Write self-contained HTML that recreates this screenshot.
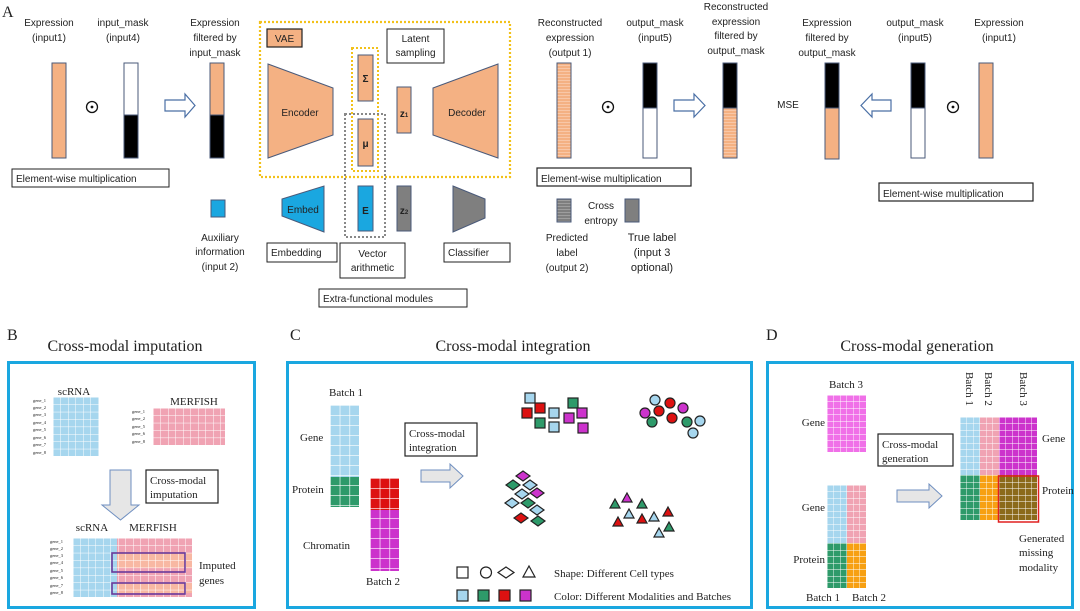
<!DOCTYPE html>
<html><head><meta charset="utf-8"><style>
html,body{margin:0;padding:0;background:#fff;}
svg{display:block;}
.s{font-family:"Liberation Sans",sans-serif;font-size:10px;fill:#222;}
.r{font-family:"Liberation Serif",serif;fill:#222;}
</style></head><body>
<svg width="1080" height="611" viewBox="0 0 1080 611" xmlns="http://www.w3.org/2000/svg">
<defs>
<pattern id="g7" patternUnits="userSpaceOnUse" width="7.5" height="7.4"><path d="M0 0H7.5M0 0V7.4" stroke="#fff" stroke-width="1" fill="none"/></pattern>
<pattern id="g6" patternUnits="userSpaceOnUse" width="6.5" height="6.5"><path d="M0 0H6.5M0 0V6.5" stroke="#fff" stroke-width="0.9" fill="none"/></pattern>
<pattern id="g10" patternUnits="userSpaceOnUse" width="9.7" height="10"><path d="M0 0H9.7M0 0V10" stroke="#fff" stroke-width="1.3" fill="none"/></pattern>
<pattern id="st" patternUnits="userSpaceOnUse" width="4" height="3"><rect width="4" height="3" fill="#f4b183"/><path d="M0 2.5H4" stroke="#f9cdb0" stroke-width="0.8"/></pattern>
<pattern id="stg" patternUnits="userSpaceOnUse" width="4" height="3"><rect width="4" height="3" fill="#7f7f7f"/><path d="M0 2.5H4" stroke="#a6a6a6" stroke-width="0.8"/></pattern>
<g id="odot"><circle r="5.5" fill="none" stroke="#111" stroke-width="1.3"/><circle r="1.4" fill="#111"/></g>
</defs>

<!-- ===== Panel A ===== -->
<text x="2" y="17" class="r" font-size="16">A</text>
<g class="s" text-anchor="middle">
<text x="49" y="26">Expression</text><text x="49" y="41">(input1)</text>
<text x="123" y="26">input_mask</text><text x="123" y="41">(input4)</text>
<text x="215" y="26">Expression</text><text x="215" y="41">filtered by</text><text x="215" y="56">input_mask</text>
</g>
<rect x="52" y="63" width="14" height="95" fill="#f4b183" stroke="#4a5a7a" stroke-width="1"/>
<use href="#odot" x="92" y="107"/>
<rect x="124" y="63" width="14" height="52" fill="#fff" stroke="#4a5a7a"/>
<rect x="124" y="115" width="14" height="43" fill="#000" stroke="#4a5a7a"/>
<path d="M165 100H185V94L195 105.5L185 117V111H165Z" fill="#fff" stroke="#4a6fa5" stroke-width="1.2"/>
<rect x="210" y="63" width="14" height="52" fill="#f4b183" stroke="#4a5a7a"/>
<rect x="210" y="115" width="14" height="43" fill="#000" stroke="#4a5a7a"/>
<rect x="12" y="169" width="157" height="18" fill="#fff" stroke="#222"/>
<text x="16" y="182" class="s">Element-wise multiplication</text>
<rect x="211" y="200" width="14" height="17" fill="#1aa7e0" stroke="#4a5a7a"/>
<g class="s" text-anchor="middle"><text x="220" y="241">Auxiliary</text><text x="220" y="255">information</text><text x="220" y="270">(input 2)</text></g>

<rect x="260" y="22" width="250" height="155" fill="none" stroke="#f2c11a" stroke-width="2.2" stroke-dasharray="2,2"/>
<rect x="267" y="29" width="35" height="18" fill="#f4b183" stroke="#222" stroke-width="1.2"/>
<text x="284.5" y="42" class="s" text-anchor="middle">VAE</text>
<path d="M268 64L333 88V135L268 158Z" fill="#f4b183" stroke="#4a5a7a"/>
<text x="300" y="116" class="s" text-anchor="middle">Encoder</text>
<rect x="352" y="48" width="26" height="123" fill="none" stroke="#f2c11a" stroke-width="2" stroke-dasharray="2,2"/>
<rect x="358" y="55" width="15" height="46" fill="#f4b183" stroke="#4a5a7a"/>
<text x="365.5" y="82" class="s" font-weight="bold" text-anchor="middle" font-size="9">Σ</text>
<rect x="345" y="114" width="40" height="123" fill="none" stroke="#888" stroke-width="2" stroke-dasharray="2,2"/>
<rect x="358" y="119" width="15" height="47" fill="#f4b183" stroke="#4a5a7a"/>
<text x="365.5" y="147" class="s" font-weight="bold" text-anchor="middle" font-size="9">μ</text>
<rect x="387" y="29" width="57" height="34" fill="#fff" stroke="#222"/>
<text x="415.5" y="42" class="s" text-anchor="middle">Latent</text><text x="415.5" y="56" class="s" text-anchor="middle">sampling</text>
<rect x="397" y="87" width="14" height="46" fill="#f4b183" stroke="#4a5a7a"/>
<text x="404" y="117" class="s" font-weight="bold" text-anchor="middle" font-size="9">z<tspan font-size="6">1</tspan></text>
<path d="M433 88L498 64V158L433 135Z" fill="#f4b183" stroke="#4a5a7a"/>
<text x="467" y="116" class="s" text-anchor="middle">Decoder</text>
<path d="M282 199L324 186V232L282 216Z" fill="#1aa7e0" stroke="#4a5a7a"/>
<text x="303" y="213" class="s" text-anchor="middle" fill="#123">Embed</text>
<rect x="358" y="186" width="15" height="45" fill="#1aa7e0" stroke="#4a5a7a"/>
<text x="365.5" y="214" class="s" font-weight="bold" text-anchor="middle" font-size="9">E</text>
<rect x="397" y="186" width="14" height="45" fill="#7f7f7f" stroke="#4a5a7a"/>
<text x="404" y="214" class="s" font-weight="bold" text-anchor="middle" font-size="9" fill="#ddd">z<tspan font-size="6">2</tspan></text>
<path d="M453 186L485 199V218L453 232Z" fill="#7f7f7f" stroke="#4a5a7a"/>
<rect x="267" y="243" width="70" height="19" fill="#fff" stroke="#222"/>
<text x="271" y="256" class="s">Embedding</text>
<rect x="340" y="243" width="65" height="35" fill="#fff" stroke="#222"/>
<text x="372.5" y="257" class="s" text-anchor="middle">Vector</text><text x="372.5" y="271" class="s" text-anchor="middle">arithmetic</text>
<rect x="444" y="243" width="66" height="19" fill="#fff" stroke="#222"/>
<text x="448" y="256" class="s">Classifier</text>
<rect x="319" y="289" width="148" height="18" fill="#fff" stroke="#222"/>
<text x="323" y="302" class="s">Extra-functional modules</text>

<g class="s" text-anchor="middle">
<text x="570" y="26">Reconstructed</text><text x="570" y="41">expression</text><text x="570" y="56">(output 1)</text>
<text x="655" y="26">output_mask</text><text x="655" y="41">(input5)</text>
<text x="736" y="10">Reconstructed</text><text x="736" y="25">expression</text><text x="736" y="39">filtered by</text><text x="736" y="54">output_mask</text>
<text x="827" y="26">Expression</text><text x="827" y="41">filtered by</text><text x="827" y="56">output_mask</text>
<text x="915" y="26">output_mask</text><text x="915" y="41">(input5)</text>
<text x="999" y="26">Expression</text><text x="999" y="41">(input1)</text>
<text x="788" y="108">MSE</text>
</g>
<rect x="557" y="63" width="14" height="95" fill="url(#st)" stroke="#4a5a7a"/>
<use href="#odot" x="608" y="107"/>
<rect x="643" y="63" width="14" height="45" fill="#000" stroke="#4a5a7a"/>
<rect x="643" y="108" width="14" height="50" fill="#fff" stroke="#4a5a7a"/>
<path d="M674 100H694V94L705 105.5L694 117V111H674Z" fill="#fff" stroke="#4a6fa5" stroke-width="1.2"/>
<rect x="723" y="63" width="14" height="45" fill="#000" stroke="#4a5a7a"/>
<rect x="723" y="108" width="14" height="50" fill="url(#st)" stroke="#4a5a7a"/>
<rect x="825" y="63" width="14" height="45" fill="#000" stroke="#4a5a7a"/>
<rect x="825" y="108" width="14" height="51" fill="#f4b183" stroke="#4a5a7a"/>
<path d="M891 100H872V94L861 105.5L872 117V111H891Z" fill="#fff" stroke="#4a6fa5" stroke-width="1.2"/>
<rect x="911" y="63" width="14" height="45" fill="#000" stroke="#4a5a7a"/>
<rect x="911" y="108" width="14" height="50" fill="#fff" stroke="#4a5a7a"/>
<use href="#odot" x="953" y="107"/>
<rect x="979" y="63" width="14" height="95" fill="#f4b183" stroke="#4a5a7a"/>
<rect x="537" y="168" width="154" height="18" fill="#fff" stroke="#222" stroke-width="1.2"/>
<text x="541" y="182" class="s">Element-wise multiplication</text>
<rect x="879" y="183" width="154" height="18" fill="#fff" stroke="#222" stroke-width="1.2"/>
<text x="883" y="197" class="s">Element-wise multiplication</text>
<rect x="557" y="199" width="14" height="23" fill="url(#stg)" stroke="#4a5a7a"/>
<rect x="625" y="199" width="14" height="23" fill="#7f7f7f" stroke="#4a5a7a"/>
<g class="s" text-anchor="middle">
<text x="601" y="209">Cross</text><text x="601" y="224">entropy</text>
<text x="567" y="241">Predicted</text><text x="567" y="256">label</text><text x="567" y="271">(output 2)</text>
<text x="652" y="241" font-size="11">True label</text><text x="652" y="256" font-size="11">(input 3</text><text x="652" y="271" font-size="11">optional)</text>
</g>

<!-- ===== Panel B ===== -->
<text x="7" y="340" class="r" font-size="16">B</text>
<text x="125" y="351" class="r" font-size="16" text-anchor="middle">Cross-modal imputation</text>
<rect x="8.5" y="362.5" width="246" height="245" fill="none" stroke="#1aa7e0" stroke-width="3"/>
<text x="74" y="395" class="r" font-size="11" text-anchor="middle">scRNA</text>
<g transform="translate(53,397)"><rect width="46" height="59" fill="#a6d6ee"/><rect width="46" height="59" fill="url(#g7)"/></g>
<g class="r" font-size="4.5" fill="#555">
<text x="33" y="402">gene_1</text><text x="33" y="409">gene_2</text><text x="33" y="416">gene_3</text><text x="33" y="424">gene_4</text><text x="33" y="431">gene_5</text><text x="33" y="439">gene_6</text><text x="33" y="446">gene_7</text><text x="33" y="454">gene_8</text>
<text x="132" y="413">gene_1</text><text x="132" y="420">gene_2</text><text x="132" y="428">gene_5</text><text x="132" y="435">gene_6</text><text x="132" y="443">gene_8</text>
<text x="50" y="543">gene_1</text><text x="50" y="550">gene_2</text><text x="50" y="557">gene_3</text><text x="50" y="564">gene_4</text><text x="50" y="572">gene_5</text><text x="50" y="579">gene_6</text><text x="50" y="587">gene_7</text><text x="50" y="594">gene_8</text>
</g>
<text x="194" y="405" class="r" font-size="11" text-anchor="middle">MERFISH</text>
<g transform="translate(153,408)"><rect width="72" height="37" fill="#f0a3b3"/><rect width="72" height="37" fill="url(#g7)"/></g>
<path d="M110 470H131V505H139L120.5 520L102 505H110Z" fill="#e6e6e6" stroke="#6f8fc0" stroke-width="1"/>
<rect x="146" y="470" width="72" height="33" fill="#fff" stroke="#222" stroke-width="1.2"/>
<text x="150" y="484" class="r" font-size="11">Cross-modal</text><text x="150" y="498" class="r" font-size="11">imputation</text>
<text x="92" y="531" class="r" font-size="11" text-anchor="middle">scRNA</text>
<text x="153" y="531" class="r" font-size="11" text-anchor="middle">MERFISH</text>
<g transform="translate(73,538)"><rect width="44" height="59" fill="#a6d6ee"/><rect x="44" width="75" height="59" fill="#f0a3b3"/><rect x="44" y="15" width="75" height="15" fill="#f8b8a3"/><rect x="44" y="45" width="75" height="10" fill="#f8b8a3"/><rect width="119" height="59" fill="url(#g7)"/></g>
<rect x="112" y="553" width="73" height="19" fill="none" stroke="#6a3a9a" stroke-width="1.6"/>
<rect x="112" y="583" width="73" height="11" fill="none" stroke="#6a3a9a" stroke-width="1.6"/>
<text x="199" y="569" class="r" font-size="11">Imputed</text><text x="199" y="584" class="r" font-size="11">genes</text>

<!-- ===== Panel C ===== -->
<text x="290" y="340" class="r" font-size="16">C</text>
<text x="513" y="351" class="r" font-size="16" text-anchor="middle">Cross-modal integration</text>
<rect x="287.5" y="362.5" width="464" height="245" fill="none" stroke="#1aa7e0" stroke-width="3"/>
<text x="346" y="396" class="r" font-size="11" text-anchor="middle">Batch 1</text>
<g transform="translate(330,405)"><rect width="29" height="72" fill="#a6d6ee"/><rect y="72" width="29" height="30" fill="#2e9a6a"/><rect width="29" height="102" fill="url(#g10)"/></g>
<text x="300" y="441" class="r" font-size="11">Gene</text>
<text x="292" y="493" class="r" font-size="11">Protein</text>
<text x="303" y="549" class="r" font-size="11">Chromatin</text>
<g transform="translate(370,478)"><rect width="29" height="32" fill="#dd1111"/><rect y="32" width="29" height="61" fill="#cc33cc"/><rect width="29" height="93" fill="url(#g10)"/></g>
<text x="383" y="585" class="r" font-size="11" text-anchor="middle">Batch 2</text>
<rect x="405" y="423" width="72" height="33" fill="#fff" stroke="#222" stroke-width="1.2"/>
<text x="409" y="437" class="r" font-size="11">Cross-modal</text><text x="409" y="451" class="r" font-size="11">integration</text>
<path d="M421 470H450V464L463 476L450 488V482H421Z" fill="#e6e6e6" stroke="#6f8fc0"/>
<g stroke="#222" stroke-width="1.2">
<rect x="525" y="393" width="10" height="10" fill="#a6d6ee"/><rect x="535" y="403" width="10" height="10" fill="#dd1111"/><rect x="522" y="408" width="10" height="10" fill="#dd1111"/><rect x="549" y="408" width="10" height="10" fill="#a6d6ee"/><rect x="535" y="418" width="10" height="10" fill="#2e9a6a"/><rect x="549" y="422" width="10" height="10" fill="#a6d6ee"/><rect x="568" y="398" width="10" height="10" fill="#2e9a6a"/><rect x="564" y="413" width="10" height="10" fill="#cc33cc"/><rect x="577" y="408" width="10" height="10" fill="#cc33cc"/><rect x="578" y="423" width="10" height="10" fill="#cc33cc"/>
<circle cx="655" cy="400" r="5" fill="#a6d6ee"/><circle cx="670" cy="403" r="5" fill="#dd1111"/><circle cx="645" cy="413" r="5" fill="#cc33cc"/><circle cx="659" cy="411" r="5" fill="#dd1111"/><circle cx="683" cy="408" r="5" fill="#cc33cc"/><circle cx="672" cy="418" r="5" fill="#dd1111"/><circle cx="652" cy="422" r="5" fill="#2e9a6a"/><circle cx="687" cy="422" r="5" fill="#2e9a6a"/><circle cx="700" cy="421" r="5" fill="#a6d6ee"/><circle cx="693" cy="433" r="5" fill="#a6d6ee"/>
<g fill="#a6d6ee">
<path d="M523 471l7 5-7 5-7-5z" fill="#cc33cc"/><path d="M513 480l7 5-7 5-7-5z" fill="#2e9a6a"/><path d="M530 480l7 5-7 5-7-5z"/><path d="M537 488l7 5-7 5-7-5z" fill="#cc33cc"/><path d="M522 489l7 5-7 5-7-5z"/><path d="M512 498l7 5-7 5-7-5z"/><path d="M528 498l7 5-7 5-7-5z" fill="#2e9a6a"/><path d="M537 505l7 5-7 5-7-5z"/><path d="M521 513l7 5-7 5-7-5z" fill="#dd1111"/><path d="M538 516l7 5-7 5-7-5z" fill="#2e9a6a"/>
</g>
<path d="M615 499l5 9h-10z" fill="#2e9a6a"/><path d="M627 493l5 9h-10z" fill="#cc33cc"/><path d="M642 499l5 9h-10z" fill="#2e9a6a"/><path d="M618 517l5 9h-10z" fill="#dd1111"/><path d="M629 509l5 9h-10z" fill="#a6d6ee"/><path d="M642 514l5 9h-10z" fill="#dd1111"/><path d="M654 512l5 9h-10z" fill="#a6d6ee"/><path d="M668 507l5 9h-10z" fill="#dd1111"/><path d="M669 522l5 9h-10z" fill="#2e9a6a"/><path d="M659 528l5 9h-10z" fill="#a6d6ee"/>
<rect x="457" y="567" width="11" height="11" fill="#fff"/><circle cx="486" cy="572.5" r="5.5" fill="#fff"/><path d="M506 567l8 5.5-8 5.5-8-5.5z" fill="#fff"/><path d="M529 566l6 11h-12z" fill="#fff"/>
<rect x="457" y="590" width="11" height="11" fill="#a6d6ee"/><rect x="478" y="590" width="11" height="11" fill="#2e9a6a"/><rect x="499" y="590" width="11" height="11" fill="#dd1111"/><rect x="520" y="590" width="11" height="11" fill="#cc33cc"/>
</g>
<text x="554" y="577" class="r" font-size="11">Shape: Different Cell types</text>
<text x="554" y="600" class="r" font-size="11">Color: Different Modalities and Batches</text>

<!-- ===== Panel D ===== -->
<text x="766" y="340" class="r" font-size="16">D</text>
<text x="917" y="351" class="r" font-size="16" text-anchor="middle">Cross-modal generation</text>
<rect x="767.5" y="362.5" width="305" height="245" fill="none" stroke="#1aa7e0" stroke-width="3"/>
<text x="846" y="388" class="r" font-size="11" text-anchor="middle">Batch 3</text>
<g transform="translate(827,395)"><rect width="39" height="57" fill="#f070e8"/><rect width="39" height="57" fill="url(#g6)"/></g>
<text x="825" y="426" class="r" font-size="11" text-anchor="end">Gene</text>
<g transform="translate(827,485)"><rect width="20" height="58" fill="#a6d6ee"/><rect x="20" width="19" height="58" fill="#f0a3b3"/><rect y="58" width="20" height="45" fill="#2e9a6a"/><rect x="20" y="58" width="19" height="45" fill="#f7a012"/><rect width="39" height="103" fill="url(#g6)"/></g>
<text x="825" y="511" class="r" font-size="11" text-anchor="end">Gene</text>
<text x="825" y="563" class="r" font-size="11" text-anchor="end">Protein</text>
<text x="823" y="601" class="r" font-size="11" text-anchor="middle">Batch 1</text>
<text x="869" y="601" class="r" font-size="11" text-anchor="middle">Batch 2</text>
<rect x="878" y="434" width="75" height="32" fill="#fff" stroke="#222" stroke-width="1.2"/>
<text x="882" y="448" class="r" font-size="11">Cross-modal</text><text x="882" y="462" class="r" font-size="11">generation</text>
<path d="M897 490H929V484L942 496L929 508V502H897Z" fill="#e6e6e6" stroke="#6f8fc0"/>
<g transform="translate(960,417)"><rect width="20" height="58" fill="#a6d6ee"/><rect x="20" width="19" height="58" fill="#f0a3b3"/><rect x="39" width="38" height="58" fill="#cc33cc"/><rect y="58" width="20" height="45" fill="#2e9a6a"/><rect x="20" y="58" width="19" height="45" fill="#f7a012"/><rect x="39" y="58" width="38" height="45" fill="#8b6a1a"/><rect width="77" height="103" fill="url(#g6)"/></g>
<rect x="998.5" y="476" width="40" height="46" fill="none" stroke="#e02020" stroke-width="1.5"/>
<g class="r" font-size="11">
<text transform="translate(966,372) rotate(90)">Batch 1</text>
<text transform="translate(985,372) rotate(90)">Batch 2</text>
<text transform="translate(1020,372) rotate(90)">Batch 3</text>
<text x="1042" y="442">Gene</text><text x="1042" y="494">Protein</text>
<text x="1019" y="542">Generated</text><text x="1019" y="556">missing</text><text x="1019" y="571">modality</text>
</g>
</svg>
</body></html>
